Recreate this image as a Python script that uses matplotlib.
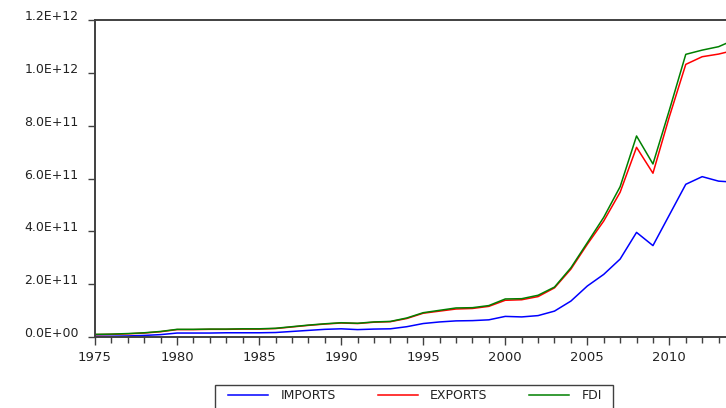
import matplotlib
matplotlib.use("Agg")
import matplotlib.pyplot as plt
import matplotlib.transforms as mtransforms
from matplotlib.patches import Rectangle

# years 1975-2014 (last one is cut by the right edge)
years = list(range(1975, 2015))

# values in units of 1E10
imports = [0.3, 0.3, 0.4, 0.6, 0.9, 1.5, 1.5, 1.5, 1.6, 1.6,
           1.6, 1.7, 2.1, 2.5, 2.9, 3.1, 2.8, 3.0, 3.1, 3.9,
           5.1, 5.7, 6.1, 6.2, 6.5, 7.8, 7.6, 8.1, 9.8, 13.6,
           19.3, 23.7, 29.5, 39.6, 34.6, 46.2, 57.8, 60.7, 59.0, 58.6]
exports = [0.9, 1.0, 1.2, 1.5, 2.0, 2.8, 2.8, 2.9, 2.9, 3.0,
           3.0, 3.2, 3.8, 4.4, 4.9, 5.3, 5.1, 5.6, 5.8, 7.0,
           9.0, 9.8, 10.6, 10.8, 11.6, 13.9, 14.1, 15.3, 18.6, 25.7,
           35.1, 43.9, 54.8, 71.8, 62.0, 83.4, 103.2, 106.1, 107.1, 108.6]
fdi = [1.0, 1.1, 1.3, 1.6, 2.1, 2.9, 2.9, 3.0, 3.0, 3.1,
       3.1, 3.3, 3.9, 4.5, 5.0, 5.4, 5.2, 5.7, 5.9, 7.2,
       9.2, 10.1, 11.0, 11.1, 11.9, 14.4, 14.5, 15.8, 18.9, 26.2,
       35.7, 45.3, 56.9, 76.1, 65.5, 85.9, 107.0, 108.6, 109.9, 112.6]

ytick_vals = [0, 2e11, 4e11, 6e11, 8e11, 1e12, 1.2e12]
ytick_labels = ["0.0E+00", "2.0E+11", "4.0E+11", "6.0E+11", "8.0E+11", "1.0E+12", "1.2E+12"]
xtick_vals = [1975, 1980, 1985, 1990, 1995, 2000, 2005, 2010]

scale = 1e10
imports = [v * scale for v in imports]
exports = [v * scale for v in exports]
fdi = [v * scale for v in fdi]

W, H = 726, 408
fig = plt.figure(figsize=(W / 100, H / 100), dpi=100)
# axes goes past the right edge of the figure, like in the original
ax = fig.add_axes([95 / W, (H - 337) / H, 640 / W, 317 / H])

l1, = ax.plot(years, imports, color="#0000ff", lw=1.1, label="IMPORTS")
l2, = ax.plot(years, exports, color="#ff0000", lw=1.1, label="EXPORTS")
l3, = ax.plot(years, fdi, color="#008000", lw=1.1, label="FDI")

ax.set_xlim(1975, 2014)
ax.set_ylim(0, 1.2e12)

for s in ["left", "top", "bottom"]:
    ax.spines[s].set_color("#404040")
    ax.spines[s].set_linewidth(1.4)
ax.spines["right"].set_visible(False)

ax.set_yticks(ytick_vals)
ax.set_yticklabels(ytick_labels)
ax.set_xticks(xtick_vals)
ax.set_xticklabels([str(y) for y in xtick_vals])
ax.set_xticks(years, minor=True)

ax.tick_params(axis="y", direction="out", length=5, width=1, color="#404040",
               pad=7, labelsize=9, labelcolor="#222222")
ax.tick_params(axis="x", which="major", direction="out", length=6, width=1,
               color="#404040", pad=4, labelsize=9.5, labelcolor="#222222")
ax.tick_params(axis="x", which="minor", direction="out", length=4, width=1,
               color="#404040")

# y labels sit a bit above their ticks
shift = mtransforms.ScaledTranslation(0, 5 / 100, fig.dpi_scale_trans)
for lab in ax.get_yticklabels():
    lab.set_transform(lab.get_transform() + shift)

leg = fig.legend([l1, l2, l3], ["IMPORTS", "EXPORTS", "FDI"], ncol=3,
                 loc="upper left",
                 bbox_to_anchor=(222 / W, 1 - 387 / H, 386 / W, 0.01),
                 mode="expand", fontsize=9, frameon=False,
                 handlelength=3.2, handletextpad=1.0, columnspacing=1.5,
                 borderpad=0.5, borderaxespad=0)
for t in leg.get_texts():
    t.set_color("#222222")

# legend box, its lower edge is cut off by the figure
fig.patches.append(Rectangle((215 / W, -0.05), 398 / W, 0.05 + (H - 385) / H,
                             transform=fig.transFigure, fill=False,
                             edgecolor="#404040", lw=1.0))

fig.savefig("out.png", dpi=100)
